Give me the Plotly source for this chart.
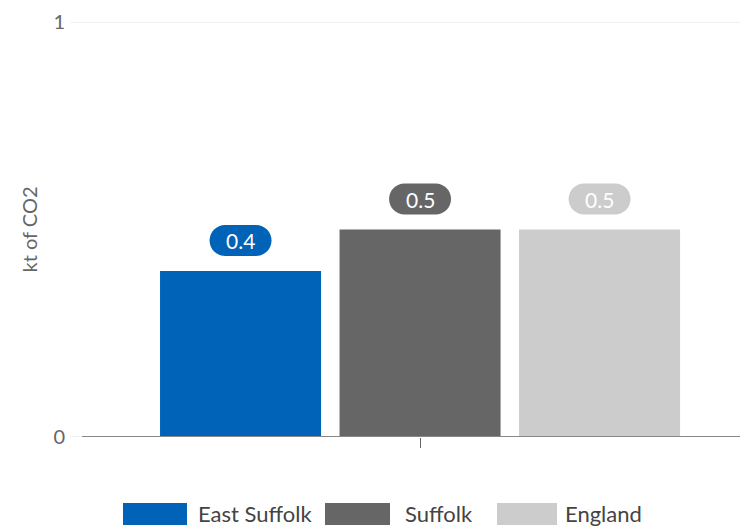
import plotly.graph_objects as go

# --- Data ---
series = ["East Suffolk", "Suffolk", "England"]
values = [0.4, 0.5, 0.5]
colors = ["#0063b8", "#666666", "#cccccc"]
y_ticks = [0, 1]
y_title = "kt of CO2"

# --- Layout constants (px) ---
W, H = 740, 526
ML, MR, MT, MB = 70, 0, 22, 89
PW, PH = W - ML - MR, H - MT - MB

BAR_W = 0.23
SLOT = 0.2564
X_RANGE = [-0.5, 0.457]


def px_x(px):
    return (px - ML) / PW


def px_y(py):
    return (H - MB - py) / PH


fig = go.Figure()

centers = [(i - 1) * SLOT for i in range(len(series))]
for name, val, col, c in zip(series, values, colors, centers):
    fig.add_trace(
        go.Bar(
            x=[0],
            y=[val],
            name=name,
            width=BAR_W,
            offset=c - BAR_W / 2,
            marker_color=col,
            marker_line_width=0,
            hoverinfo="skip",
            showlegend=False,
        )
    )

# --- Gridlines (drawn as shapes so the edge lines show) ---
for t in y_ticks:
    fig.add_shape(
        type="line",
        xref="paper",
        yref="y",
        x0=0,
        x1=1,
        y0=t,
        y1=t,
        line=dict(color="#e3e3e3", width=1),
        layer="below",
    )

# --- Pill data labels ---
pw, ph, pr, pb = 62, 31, 15.5, 15
pill = (
    f"M {-pw/2+pr} {pb} L {pw/2-pr} {pb} C {pw/2-pr*0.45} {pb} {pw/2} {pb+pr*0.45} {pw/2} {pb+pr} "
    f"L {pw/2} {pb+ph-pr} C {pw/2} {pb+ph-pr*0.45} {pw/2-pr*0.45} {pb+ph} {pw/2-pr} {pb+ph} "
    f"L {-pw/2+pr} {pb+ph} C {-pw/2+pr*0.45} {pb+ph} {-pw/2} {pb+ph-pr*0.45} {-pw/2} {pb+ph-pr} "
    f"L {-pw/2} {pb+pr} C {-pw/2} {pb+pr*0.45} {-pw/2+pr*0.45} {pb} {-pw/2+pr} {pb} Z"
)
for val, col, c in zip(values, colors, centers):
    fig.add_shape(
        type="path",
        path=pill,
        xref="x",
        yref="y",
        xsizemode="pixel",
        ysizemode="pixel",
        xanchor=c,
        yanchor=val,
        fillcolor=col,
        line_width=0,
    )
    fig.add_annotation(
        x=c,
        y=val,
        xref="x",
        yref="y",
        text=f"{val:.1f}",
        showarrow=False,
        yshift=pb + ph / 2,
        yanchor="middle",
        font=dict(family="Lato", size=21, color="white"),
    )

# --- x axis line (starts right of the gridline) ---
fig.add_shape(
    type="line",
    xref="paper",
    yref="y",
    x0=px_x(82),
    x1=1,
    y0=0,
    y1=0,
    line=dict(color="#888888", width=2),
)

# --- Custom legend ---
legend_boxes = [(123, 187), (325, 390), (497, 557)]
legend_text_x = [196, 403, 563]
for name, col, (x0, x1), tx in zip(series, colors, legend_boxes, legend_text_x):
    fig.add_shape(
        type="rect",
        xref="paper",
        yref="paper",
        x0=px_x(x0),
        x1=px_x(x1),
        y0=px_y(525),
        y1=px_y(503),
        fillcolor=col,
        line_width=0,
    )
    fig.add_annotation(
        x=px_x(tx),
        y=px_y(513),
        xref="paper",
        yref="paper",
        text=name,
        showarrow=False,
        xanchor="left",
        yanchor="middle",
        font=dict(family="Lato", size=22, color="#444444"),
    )

fig.update_layout(
    width=W,
    height=H,
    margin=dict(l=ML, r=MR, t=MT, b=MB, autoexpand=False),
    plot_bgcolor="white",
    paper_bgcolor="white",
    font=dict(family="Lato", color="#666666"),
    barmode="overlay",
    showlegend=False,
    xaxis=dict(
        range=X_RANGE,
        tickvals=[0],
        ticktext=[""],
        ticks="outside",
        ticklen=10,
        tickcolor="#666666",
        tickwidth=1,
        showgrid=False,
        zeroline=False,
        showline=False,
        automargin=False,
        fixedrange=True,
    ),
    yaxis=dict(
        range=[0, 1],
        tickvals=y_ticks,
        showgrid=False,
        zeroline=False,
        showline=False,
        tickfont=dict(family="Lato", size=20, color="#666666"),
        ticklabelstandoff=4,
        automargin=False,
        title=dict(
            text=y_title,
            font=dict(family="Lato", size=20, color="#666666"),
            standoff=10,
        ),
        fixedrange=True,
    ),
)

fig.write_html(
    "out.html",
    config={"displayModeBar": False},
    post_script="document.body.style.margin='0';document.body.style.overflow='hidden';",
)
